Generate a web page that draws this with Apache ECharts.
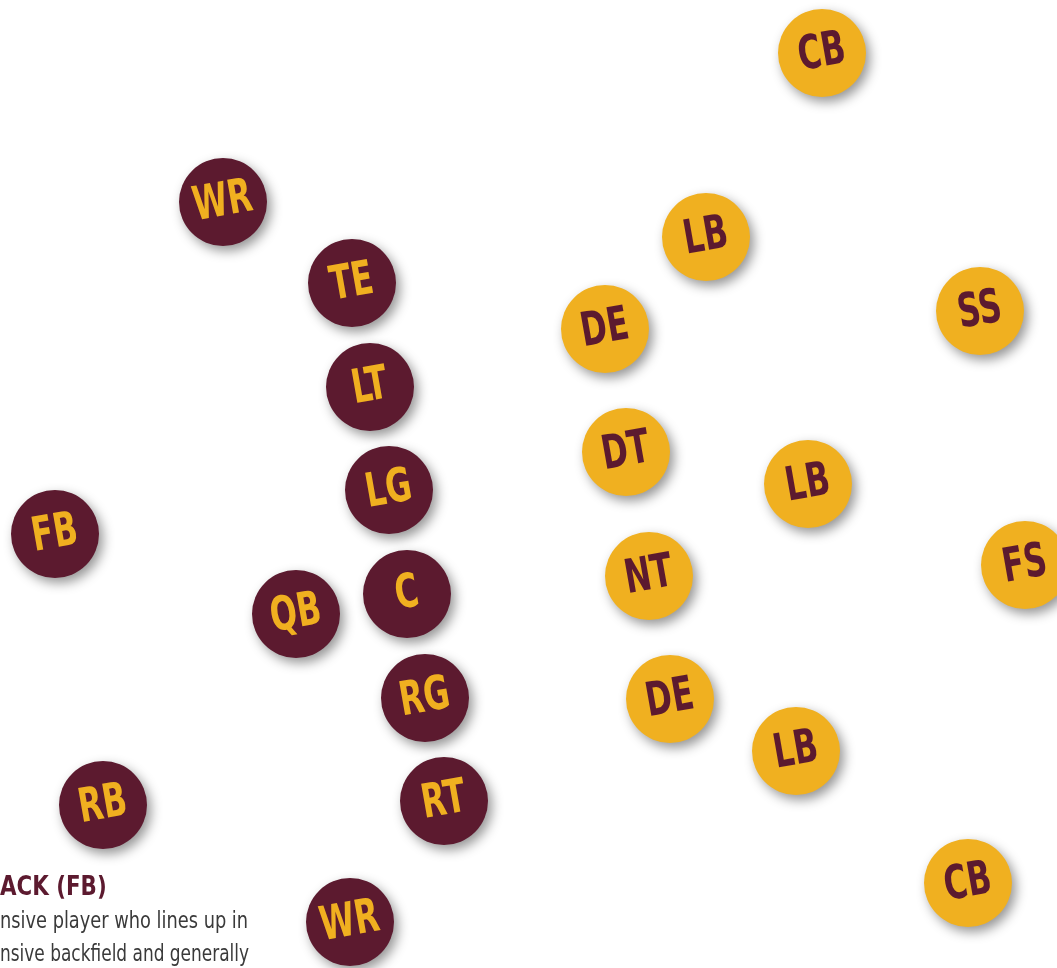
<!DOCTYPE html>
<html><head><meta charset="utf-8">
<script src="https://cdn.jsdelivr.net/npm/echarts@6/dist/echarts.min.js"></script>
<style>html,body{margin:0;padding:0;background:#fff}#c{width:1057px;height:968px}</style>
</head><body><div id="c"></div>
<script>
const offenseNames = ['WR','TE','LT','LG','FB','C','QB','RG','RB','RT','WR'];
const offenseX = [223,352,370,389,55,407,296,425,103,444,350];
const offenseY = [202,283,387,490,534,594,614,698,805,801,922];
const defenseNames = ['CB','LB','SS','DE','DT','LB','FS','NT','DE','LB','CB'];
const defenseX = [822,706,980,605,626,808,1025,649,670,796,968];
const defenseY = [53,237,311,329,452,484,565,576,699,751,883];
const titleText = 'ACK (FB)';
const bodyLines = ['nsive player who lines up in','nsive backfield and generally'];

const MAROON = '#5c1a2f';
const GOLD = '#f0b020';
const FONT = '"DejaVu Sans Condensed","DejaVu Sans",sans-serif';

function series(names, xs, ys, fill, txt){
  const data = names.map((n,i)=>({name:n, value:[xs[i], ys[i]]}));
  return {
    type:'custom', data, animation:false, silent:true,
    renderItem(params, api){
      const p = api.coord([api.value(0), api.value(1)]);
      const r = api.size([88, 0])[0] / 2;
      return {type:'group', children:[
        {type:'circle', shape:{cx:p[0], cy:p[1], r:r},
         style:{fill:fill, shadowBlur:12, shadowOffsetX:4, shadowOffsetY:5, shadowColor:'rgba(0,0,0,0.42)'}},
        {type:'text', x:p[0], y:p[1]+1, rotation:10*Math.PI/180, scaleX:0.75,
         style:{text:names[params.dataIndex], align:'center', verticalAlign:'middle', fill:txt, font:'bold 47px '+FONT}}
      ]};
    }
  };
}
const chart = echarts.init(document.getElementById('c'));
chart.setOption({
  animation:false,
  grid:{left:0,right:0,top:0,bottom:0},
  xAxis:{type:'value', min:0, max:1057, show:false},
  yAxis:{type:'value', min:0, max:968, inverse:true, show:false},
  series:[series(offenseNames,offenseX,offenseY, MAROON, GOLD), series(defenseNames,defenseX,defenseY, GOLD, MAROON)],
  graphic:[
    {type:'text', x:0, y:874, scaleX:0.88, style:{text:titleText, fill:MAROON, font:'bold 27px '+FONT}},
    {type:'text', x:0, y:911, scaleX:0.86, style:{text:bodyLines[0], fill:'#3a3a3a', font:'23px '+FONT}},
    {type:'text', x:0, y:944, scaleX:0.82, style:{text:bodyLines[1], fill:'#3a3a3a', font:'23px '+FONT}}
  ]
});
</script></body></html>
